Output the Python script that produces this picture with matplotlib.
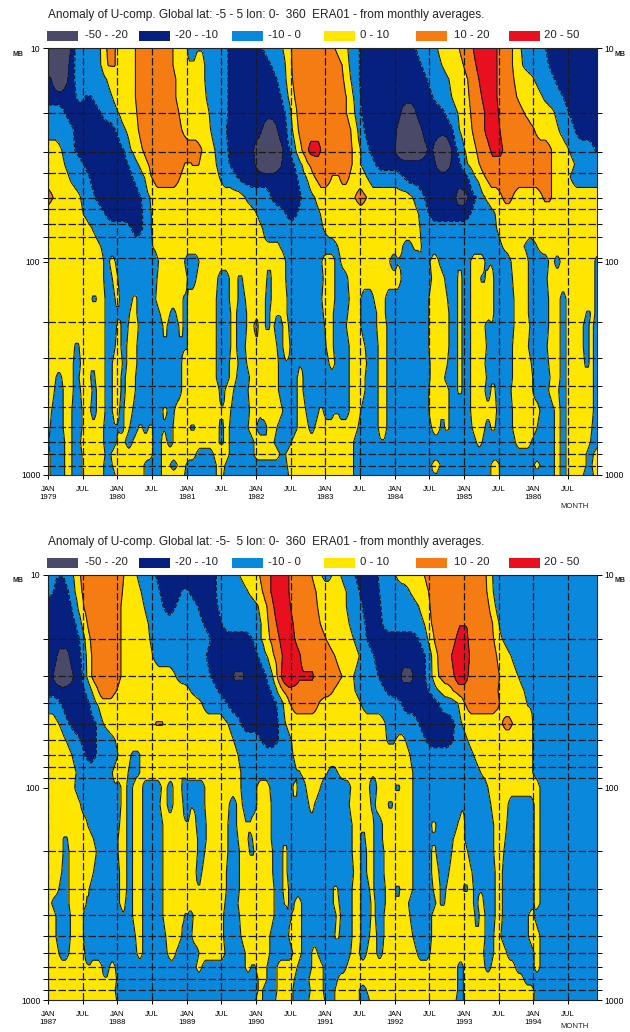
import numpy as np
import matplotlib
matplotlib.use("Agg")
import matplotlib.pyplot as plt
from matplotlib.patches import Rectangle

plt.rcParams["font.family"] = ["Liberation Sans", "DejaVu Sans"]

# class mid values of the anomaly bands
G, N, B, Y, O, R = -35, -15, -5, 5, 15, 35

bands = [-50, -20, -10, 0, 10, 20, 50]
band_colors = ["#4a4a68", "#06207f", "#0a88dc", "#ffe600", "#f47c12", "#e8101f"]
band_labels = ["-50 - -20", "-20 - -10", "-10 - 0", "0 - 10", "10 - 20", "20 - 50"]

pressure = [10, 12, 14, 17, 20, 24, 30, 35, 40, 50, 60, 70, 85, 100,
            120, 150, 175, 200, 250, 300, 350, 400, 500, 600, 700, 800, 900, 1000]

# dashed level lines as they sit in each panel
grid_1979 = [20.2, 30.8, 38.6, 50.6, 57, 67, 77, 96.6, 192, 284, 384, 481, 596, 700, 800, 909]
grid_1987 = [20, 30, 40, 50, 60, 70, 80, 90, 200, 300, 400, 500, 600, 700, 800, 900]

# one row per pressure level: value, last month of that value, value, last month...
runs_1979 = [
    [G,3.5,N,4.5,B,9,Y,10,O,11.5,Y,15,O,21.5,Y,24,B,25.5,Y,26.5,B,31,N,37,B,40.5,Y,42,O,49.7,Y,51.9,B,53.8,N,63.7,B,67.4,Y,71.2,O,74.2,R,77.1,O,80.3,Y,81.8,B,86.2,N,95],
    [G,3.2,N,4.6,B,9.2,Y,10.4,O,11.5,Y,15,O,21.6,Y,24.4,B,25.4,Y,27,B,31,N,38.6,B,41,Y,42,O,50.9,Y,52.2,B,53.8,N,64.7,B,68.2,Y,71.9,O,74.5,R,77.1,O,80.3,Y,82,B,86.6,N,95],
    [N,1.2,G,2.9,N,4.6,B,10,Y,15,O,22,Y,27,B,31,N,39.5,B,41.3,Y,42.2,O,51.2,Y,52.4,B,53.8,N,65.7,B,69.3,Y,72.5,O,75,R,77,O,80.7,Y,84.1,B,87.5,N,95],
    [N,4.8,B,6.3,N,7.7,B,11.2,Y,15.2,O,22.2,Y,27.4,B,31,N,40.3,B,41.7,Y,42.7,O,51.5,Y,52.8,B,54,N,66.7,B,69.9,Y,72.8,O,75.5,R,77.1,O,81.1,Y,85.5,B,89,N,95],
    [B,2.9,N,9,B,12,Y,15.4,O,22.5,Y,27.8,B,31,N,41.1,B,42.2,Y,42.9,O,51.7,Y,53.2,B,54,N,61.5,G,63,N,68.7,B,70.8,Y,73,O,76,R,77.4,O,82.3,Y,87.5,B,90,N,95],
    [B,4.3,N,11.5,B,13.3,Y,15.7,O,23,Y,28.2,B,30.8,N,37.5,G,39.2,N,41.3,B,42.4,Y,43.2,O,52.3,Y,53.5,B,54.6,N,60.9,G,64,N,70,B,71.2,Y,73.4,O,76.2,R,77.6,O,84.1,Y,88.3,B,91.2,N,95],
    [Y,2.3,B,4.6,N,13,B,14.4,Y,16.4,O,26.5,Y,28.8,B,31,N,36,G,40,N,41.8,B,43,Y,43.7,O,45.7,R,46.7,O,52.6,Y,54,B,55.5,N,60.7,G,65,N,67,G,69.3,N,70.8,B,72,Y,74,O,77,R,78.1,O,87,Y,90,B,94.7,N,95],
    [Y,2.9,B,6.2,N,13.8,B,15.6,Y,17.3,O,23.7,Y,24.8,O,26,Y,29.1,B,31.4,N,36.3,G,39.8,N,42.6,B,43.8,Y,45,O,52.5,Y,54,B,56.6,N,67.6,G,69.2,N,71.3,B,72.6,Y,74.5,O,87,Y,91.2,B,95],
    [Y,3.7,B,7,N,14.7,B,16.5,Y,17.9,O,22.8,Y,29.7,B,32.6,N,43,B,44.7,Y,46.1,O,49,Y,50.3,O,52.2,Y,55.2,B,61.3,N,72.5,B,73.9,Y,75.7,O,87,Y,90.4,B,95],
    [O,0.8,Y,5.5,B,8,N,16,B,17.6,Y,34,B,38.6,N,43.8,B,46.1,Y,53,O,55,Y,63,B,65,N,71,G,72,N,74,B,75.7,Y,78.5,O,80.3,Y,85.7,O,87,Y,95],
    [Y,6,B,9.8,N,16.4,B,17.9,Y,36,B,41,N,43.2,B,47,Y,64,B,65.9,N,73,B,77.4,Y,95],
    [Y,7.5,B,14.4,N,16.4,B,17.9,Y,37.2,B,47.5,Y,64.4,B,77.7,Y,95],
    [Y,9.2,B,18,Y,37.8,B,38.5,Y,40,B,50.2,Y,61.3,B,63,Y,64.7,B,78.5,Y,82.3,B,84.6,Y,95],
    [Y,9.5,B,10.5,Y,11.5,B,19,Y,23.5,B,26,Y,38,B,38.6,Y,41,B,47.4,Y,49.7,B,50.6,Y,59,B,60.5,Y,61,B,64.5,Y,65,B,66,Y,67.5,B,71,Y,71.5,B,73,Y,75.7,B,76.5,Y,77,B,80,Y,83,B,86.5,Y,87.5,B,88.5,Y,94.5,B,95],
    [Y,9.5,B,11,Y,12,B,18.8,Y,24,B,25.5,Y,29.4,B,31.4,Y,32.9,B,33.5,Y,37.8,B,38.6,Y,41,B,47.6,Y,49.5,B,51.9,Y,61,B,66.3,Y,68.5,B,70.8,Y,71.5,B,73,Y,74.8,B,75.7,Y,77,B,80.3,Y,83.2,B,86.4,Y,94.5,B,95],
    [Y,7.5,B,8.3,Y,9.8,B,11.5,Y,12.3,B,14.6,Y,15.3,B,18.7,Y,23.3,B,24.2,Y,29,B,31.4,Y,32.9,B,34,Y,37.5,B,38.6,Y,39.5,B,40.2,Y,41.3,B,47.4,Y,49.6,B,52,Y,54,B,56.4,Y,58.4,B,65.9,Y,69,B,70.8,Y,71.5,B,73,Y,77,B,80.6,Y,83.2,B,86.5,Y,88.6,B,89.7,Y,94.7,B,95],
    [Y,9.8,B,11.8,Y,12.3,B,14,Y,15.4,B,19.3,Y,21,B,22.2,Y,23.3,B,24.2,Y,29.1,B,31.7,Y,32.7,B,34.3,Y,36,B,36.5,Y,37.5,B,38.4,Y,39.5,B,40.2,Y,41.3,B,47.6,Y,49.4,B,51.9,Y,54,B,56.8,Y,58.4,B,65.9,Y,69.3,B,70.8,Y,71.5,B,73,Y,77,B,80.6,Y,83.2,B,86.5,Y,88.6,B,89.7,Y,93,B,93.8,Y,94.7,B,95],
    [Y,9.8,B,11.8,Y,12.5,B,13.8,Y,15.6,B,19.9,Y,20.5,B,22.5,Y,23.3,B,24.2,Y,29.1,B,31.7,Y,32.7,B,34.3,Y,35.7,B,36.3,Y,37.5,B,38.3,Y,39.2,B,40.6,Y,41.5,B,47.8,Y,49.4,B,51.7,Y,54,B,56.9,Y,58.5,B,65.9,Y,69.3,B,70.8,Y,71.5,B,73,Y,75.7,B,76.8,Y,77.3,B,80.6,Y,83.4,B,86.5,Y,88.6,B,89.7,Y,92.7,B,93.5,Y,94.4,B,95],
    [Y,4.6,B,5.4,Y,9.8,B,11.5,Y,12.7,B,13.7,Y,15.4,B,20,Y,20.6,B,22.8,Y,23.3,B,24.2,Y,29.1,B,31.5,Y,32.7,B,34.2,Y,36,B,36.5,Y,39.5,B,40.6,Y,41.8,B,43.5,Y,44.2,B,48.2,Y,49.4,B,52,Y,54.9,B,57.2,Y,58.7,B,65.9,Y,69.3,B,70.9,Y,71.5,B,73,Y,75.8,B,76.8,Y,77.4,B,80.4,Y,83.2,B,86.4,Y,88.6,B,89.7,Y,92.7,B,93.5,Y,94.4,B,95],
    [Y,4.4,B,5.6,Y,7.5,B,8.2,Y,9.8,B,11.2,Y,12.9,B,13.5,Y,15.3,B,23,Y,29.1,B,31.4,Y,32.9,B,34.3,Y,36,B,36.6,Y,39.9,B,41,Y,41.6,B,43.5,Y,44.2,B,48.6,Y,49.6,B,52,Y,55.2,B,57.2,Y,58.5,B,66,Y,69.1,B,70.9,Y,71.5,B,73.2,Y,75.7,B,76.8,Y,77.4,B,80.4,Y,83.6,B,86.6,Y,88.5,B,89.7,Y,92.8,B,93.5,Y,94.4,B,95],
    [Y,1.4,B,2.3,Y,4.4,B,5.4,Y,7.3,B,8.2,Y,9.8,B,11.2,Y,12.5,B,13.4,Y,15,B,23,Y,29.1,B,31.4,Y,32.7,B,34.9,Y,36,B,36.5,Y,39.8,B,41.2,Y,41.7,B,43,Y,44,B,52,Y,54.9,B,57.2,Y,58.5,B,66,Y,68.6,B,70.9,Y,71.5,B,73,Y,75.9,B,76.8,Y,77.4,B,80.4,Y,83.8,B,86.8,Y,88.5,B,89.7,Y,93,B,93.4,Y,94.4,B,95],
    [Y,1.2,B,2.6,Y,4.3,B,5.6,Y,7.5,B,8.4,Y,9.8,B,11.2,Y,12.5,B,13.4,Y,15,B,23.2,Y,29.5,B,30.5,Y,32,B,34.6,Y,36,B,36.5,Y,39.8,B,41,Y,41.7,B,43,Y,44.2,B,52,Y,54.9,B,57,Y,58.5,B,65.9,Y,67.9,B,68.3,Y,69.3,B,70.9,Y,71.5,B,73,Y,75.7,B,76.6,Y,77.4,B,80.1,Y,83.9,B,86.6,Y,88.3,B,89.7,Y,93,B,93.4,Y,94.4,B,95],
    [Y,0.6,B,2.6,Y,4.2,B,5.9,Y,7.3,B,8.4,Y,9.8,B,11.2,Y,12.4,B,13.1,Y,14.6,B,19.9,Y,20.7,B,21.9,Y,29.8,B,30.4,Y,31.7,B,34.9,Y,36,B,36.4,Y,40.5,B,43.2,Y,44.7,B,46.8,Y,47.5,B,49.5,Y,50,B,52.2,Y,54.2,B,57.2,Y,58.5,B,65.9,Y,68,B,68.6,Y,69.3,B,73,Y,75.8,B,76.2,Y,77.5,B,80.4,Y,85,B,87.5,Y,88.5,B,89.7,Y,94.4,B,95],
    [Y,0.3,B,2.7,Y,4.2,B,5.9,Y,8,B,8.4,Y,9.5,B,11.5,Y,12.1,B,13.1,Y,14.2,B,15.6,Y,16.4,B,17.3,Y,18,B,19.6,Y,20.2,B,21.6,Y,24.5,B,25.4,Y,29.7,B,30.4,Y,31.4,B,34.6,Y,36,B,37.8,Y,39.6,B,43.2,Y,45,B,46,Y,53.5,B,57.2,Y,58.5,B,66.4,Y,67.8,B,68.5,Y,69.3,B,73.4,Y,75.7,B,76.5,Y,77.4,B,80.4,Y,84.6,B,87.5,Y,88.5,B,89.7,Y,94.1,B,95],
    [Y,0.2,B,2.9,Y,4.2,B,5.7,Y,8,B,8.4,Y,9.5,B,11.8,Y,13.4,B,14.7,Y,18,B,19.6,Y,20.7,B,21.7,Y,29.7,B,30.3,Y,31.4,B,35.7,Y,37.8,B,38.4,Y,39.2,B,42,Y,52.9,B,57.7,Y,58.2,B,74,Y,75,B,80.9,Y,83.7,B,87.5,Y,88.5,B,89.7,Y,93.8,B,95],
    [Y,0.3,B,2.9,Y,4,B,5.8,Y,8,B,8.4,Y,9.8,B,10.8,Y,18,B,19.6,Y,25.6,B,28.5,Y,31.4,B,35.7,Y,40,B,41.2,Y,52.9,B,87.5,Y,88.5,B,89.7,Y,93.2,B,94.3,Y,95],
    [Y,0.3,B,2.9,Y,4,B,5.8,Y,8,B,8.6,Y,9.5,B,11,Y,16.7,B,19.6,Y,21,B,22.4,Y,23.8,B,29.1,Y,30.5,B,41.3,Y,52.9,B,66.4,Y,67.9,B,76.5,Y,78,B,84.2,Y,85,B,87.5,Y,88.5,B,89.7,Y,93,B,94.2,Y,95],
    [Y,0.3,B,2.9,Y,4,B,5.9,Y,9.5,B,11.5,Y,16.5,B,19.5,Y,23.7,B,29.2,Y,30.4,B,32.3,Y,32.8,B,41.5,Y,52.9,B,66.5,Y,67.2,B,76.5,Y,78,B,81,Y,81.6,B,87.5,Y,88.5,B,89.7,Y,92.5,B,94.3,Y,95],
]

runs_1987 = [
    [B,1.7,N,2.6,B,4.4,Y,5.5,O,13,Y,15.4,B,18.7,N,23.6,B,24.2,N,29.1,B,33,Y,36.6,O,39,R,41,O,45.5,Y,47.4,B,49.2,Y,50.6,B,53.2,N,57.2,B,60.1,Y,65,O,76,Y,76.5,B,84.1,Y,85,B,95],
    [B,0.9,N,3.5,B,4.6,Y,5.8,O,12.9,Y,16,B,19.3,N,23,B,24.4,N,29.2,B,34.6,Y,37.2,O,39.2,R,41.2,O,46.3,Y,51.5,B,53.8,N,57.3,B,62.7,Y,65.9,O,76.2,Y,76.8,B,84.1,Y,85,B,95],
    [N,4,B,5,Y,6,O,12.7,Y,16.7,B,19.9,N,22.2,B,25.9,N,29.4,B,36.3,Y,37.8,O,39.5,R,41.3,O,46.5,Y,51.7,B,54.3,N,57.5,B,64.1,Y,66,O,76.5,Y,77.2,B,84.1,Y,85,B,95],
    [N,4.9,B,5.9,Y,6.5,O,12.7,Y,17.3,B,26.8,N,30,B,36.9,Y,38.2,O,40,R,41.8,O,47.1,Y,52.2,B,54.9,N,57.8,B,65,Y,66.4,O,71.8,R,72.4,O,77,Y,77.8,B,84.1,Y,85,B,95],
    [N,5.5,B,6.3,Y,7,O,12.7,Y,17.6,B,28,N,35.4,B,36.9,Y,38.4,O,40.6,R,42,O,48,Y,52.8,B,55.2,N,64.1,B,65.9,Y,66.7,O,71,R,72.2,O,77.2,Y,78.5,B,84.1,Y,85,B,95],
    [N,2,G,3,N,5.9,B,6.7,Y,7.3,O,12.6,Y,18,B,27.4,N,36.3,B,37.8,Y,39.2,O,41.2,R,43.2,O,49.7,Y,53.8,B,56.4,N,65.3,B,66.3,Y,67.3,O,70.3,R,72.4,O,77.6,Y,80,B,84.1,Y,85,B,95],
    [N,1.3,G,3.9,N,6.2,B,6.9,Y,7.2,O,12.7,Y,22.2,B,28.2,N,32.5,G,33.3,N,38,B,38.6,Y,39.8,O,40.5,R,43.2,O,44.6,R,45.4,O,50.8,Y,52.9,B,57.2,N,61.5,G,62.7,N,65.3,B,66.4,Y,67.6,O,70.8,R,72,O,78,Y,81.3,B,84.1,Y,85,B,95],
    [N,6.3,B,7.8,Y,8.4,O,11.9,Y,24.5,B,29.4,N,38.6,B,39.5,Y,40.6,O,49.4,Y,53.2,B,58.4,N,65.9,B,67.6,Y,70.2,O,77.8,Y,82.3,B,84.1,Y,85,B,95],
    [B,2,N,7,B,8.4,Y,9.8,O,10.4,Y,26.5,B,30.8,N,39.5,B,40.6,Y,41.8,O,46.8,Y,54.1,B,61,N,67.6,B,70.8,Y,72.2,O,78,Y,82.9,B,84.1,Y,85,B,95],
    [Y,1.9,B,3.7,N,8.4,B,9.5,Y,18.7,O,19.9,Y,31.1,B,33.4,N,39.8,B,41.2,Y,58.4,B,64.1,N,70.3,B,71.6,Y,78.5,O,80.3,Y,83.9,B,95],
    [Y,3.2,B,5.5,N,8.4,B,11.5,Y,32,B,36.9,N,39.8,B,42,Y,58.7,B,60,Y,61.8,B,65.3,N,70.2,B,72.5,Y,83.9,B,95],
    [Y,4,B,6.3,N,8.4,B,12,Y,14.4,B,15.9,Y,32.9,B,42.4,Y,55.8,B,56.4,Y,62.7,B,73.6,Y,83.9,B,95],
    [Y,4.8,B,11.2,Y,13.8,B,15.9,Y,22.2,B,23.2,Y,33.4,B,43.2,Y,44.1,B,44.7,Y,48.3,B,50,Y,55.5,B,56.4,Y,58.4,B,59,Y,63.2,B,74.8,Y,83.9,B,95],
    [Y,4.6,B,11,Y,11.5,B,12.7,Y,13.7,B,14.6,Y,16.3,B,19.7,Y,20.5,B,21.6,Y,23.2,B,27.1,Y,33.4,B,36,Y,38.4,B,42.4,Y,43,B,44.6,Y,47,B,52.3,Y,55.7,B,56.8,Y,60,B,60.8,Y,63.2,B,72,Y,72.5,B,76,Y,85,B,95],
    [Y,5.5,B,11,Y,11.5,B,12.5,Y,13.7,B,14.6,Y,16.4,B,19.3,Y,20.7,B,21.5,Y,23.3,B,24.8,Y,25.4,B,27.1,Y,31.4,B,32.6,Y,33.7,B,36,Y,38.6,B,42.7,Y,43.2,B,45,Y,46.1,B,52.2,Y,55.9,B,56.7,Y,58.8,B,59.7,Y,63,B,71.8,Y,72.3,B,76.5,Y,79.7,B,84.1,Y,85,B,95],
    [Y,6.9,B,12.3,Y,13.7,B,14.6,Y,16.4,B,19.8,Y,23.6,B,24.2,Y,25.5,B,27.3,Y,31.1,B,32.7,Y,34.3,B,34.8,Y,38.6,B,52.6,Y,54,B,54.6,Y,56.4,B,57.8,Y,63,B,66.4,Y,67.2,B,70.8,Y,72.2,B,77,Y,79.4,B,84.1,Y,85,B,95],
    [Y,2.7,B,3.3,Y,7.8,B,12.1,Y,13.7,B,14.6,Y,16.4,B,19.8,Y,23.6,B,24.2,Y,25.8,B,27.3,Y,31.1,B,32.9,Y,34.6,B,35.4,Y,38.6,B,40.6,Y,41.1,B,52.6,Y,54,B,54.9,Y,56.4,B,57.8,Y,63,B,66.6,Y,67.2,B,70.2,Y,72.2,B,77,Y,79,B,84.1,Y,85,B,95],
    [Y,2.5,B,3.5,Y,8.4,B,12.1,Y,13.7,B,14.6,Y,16.4,B,19.8,Y,25.9,B,27.1,Y,31.1,B,33,Y,34.9,B,35.5,Y,38.9,B,40.6,Y,41.3,B,52.6,Y,54,B,55.2,Y,56.4,B,58,Y,63,B,66.4,Y,67.2,B,69.9,Y,72.5,B,77.2,Y,78.9,B,84.1,Y,85,B,95],
    [Y,2.3,B,3.5,Y,7.8,B,12.3,Y,13.7,B,14.7,Y,16.4,B,19.8,Y,25.6,B,26.7,Y,30.8,B,33,Y,38.9,B,40.5,Y,41.3,B,52.8,Y,54,B,55.2,Y,56.3,B,58,Y,63,B,66.4,Y,67.5,B,69.3,Y,71.8,B,72.2,Y,73.4,B,77.4,Y,78.7,B,84.1,Y,85,B,95],
    [Y,1.9,B,3.6,Y,6,B,6.4,Y,7.2,B,12.3,Y,13.6,B,14.7,Y,16.4,B,19.8,Y,25.6,B,26.1,Y,30.8,B,33,Y,39,B,40.5,Y,41.5,B,49.3,Y,50.1,B,52.6,Y,54,B,55.5,Y,56.4,B,58.4,Y,60,B,60.8,Y,63,B,66.7,Y,67.8,B,68.8,Y,71.8,B,72.5,Y,73.6,B,74.7,Y,75.2,B,77.4,Y,78.6,B,84.1,Y,85,B,95],
    [Y,0.6,B,3.6,Y,6,B,6.5,Y,7.2,B,12.4,Y,13.4,B,14.7,Y,16.4,B,19.9,Y,30.7,B,32.9,Y,39.2,B,40.9,Y,41.5,B,42.7,Y,43.8,B,49.4,Y,50.3,B,52.6,Y,54,B,55.8,Y,56.6,B,58.4,Y,60,B,60.6,Y,62.4,B,67,Y,67.9,B,68.5,Y,73.5,B,74.4,Y,75.3,B,77.4,Y,78.6,B,84.1,Y,85,B,95],
    [Y,1.4,B,3.9,Y,6.1,B,13,Y,13.7,B,14.7,Y,16.4,B,19.9,Y,23,B,23.6,Y,24.2,B,25,Y,30.4,B,33,Y,39.2,B,41.5,Y,42,B,42.6,Y,43.8,B,49.9,Y,50.6,B,52.6,Y,54,B,55.8,Y,56.6,B,58,Y,60.3,B,60.9,Y,62.6,B,66.4,Y,73.9,B,74.7,Y,75.5,B,77.4,Y,78.7,B,83,Y,84,B,95],
    [Y,1.4,B,3.9,Y,6,B,15,Y,16.4,B,20.3,Y,23.1,B,24.8,Y,30.4,B,33.4,Y,38.3,B,41.6,Y,43.8,B,49.6,Y,50.3,B,52.6,Y,54,B,55.7,Y,56.8,B,58,Y,60.9,B,61.3,Y,63,B,66.4,Y,73.9,B,74.3,Y,75.7,B,77.2,Y,78.3,B,83.2,Y,85,B,95],
    [Y,1.9,B,3.6,Y,6.3,B,15.3,Y,16.4,B,20.7,Y,22,B,26,Y,30.5,B,34,Y,38.3,B,42.4,Y,43.8,B,45.6,Y,46.7,B,52.3,Y,53.9,B,55,Y,56.8,B,57.8,Y,63.9,B,66.2,Y,75.4,B,77.2,Y,79.4,B,84.1,Y,85,B,95],
    [Y,6.5,B,7.2,Y,9.3,B,10.7,Y,11.5,B,25.6,Y,26.5,B,34,Y,35,B,35.9,Y,37.8,B,39.7,Y,43,B,45.6,Y,47.6,B,51.5,Y,70.8,B,71.9,Y,75.7,B,76.5,Y,80.9,B,84.1,Y,85,B,95],
    [Y,3.6,B,4.1,Y,9.5,B,10.1,Y,11.9,B,28.5,Y,29.2,B,36.4,Y,37.8,B,39.5,Y,42.7,B,45,Y,47.7,B,50,Y,70.8,B,71.9,Y,82.3,B,95],
    [Y,3.6,B,4.1,Y,11.5,B,28.5,Y,29.1,B,36.4,Y,37.2,B,39.5,Y,42.4,B,45.4,Y,47.7,B,49.6,Y,53.9,B,55.2,Y,70.8,B,71.9,Y,84,B,95],
    [Y,11.8,B,15.6,Y,16.2,B,26.8,Y,27.2,B,28.5,Y,29.2,B,35.8,Y,37.2,B,39.4,Y,42.4,B,45.1,Y,47.8,B,49.6,Y,53.9,B,55.5,Y,70.7,B,71.9,Y,84,B,95],
]

years_1979 = [1979, 1980, 1981, 1982, 1983, 1984, 1985, 1986]
years_1987 = [1987, 1988, 1989, 1990, 1991, 1992, 1993, 1994]
title_1979 = "Anomaly of U-comp. Global lat: -5 - 5 lon: 0-  360  ERA01 - from monthly averages."
title_1987 = "Anomaly of U-comp. Global lat: -5-  5 lon: 0-  360  ERA01 - from monthly averages."

W, H = 630, 1032
fig = plt.figure(figsize=(W / 100, H / 100), dpi=100)


def field(runs, months):
    out = []
    for row, p in zip(runs, pressure):
        vals = np.array(row[0::2], dtype=float)
        ends = np.array(row[1::2], dtype=float)
        idx = np.clip(np.searchsorted(ends, months), 0, len(vals) - 1)
        # slight blending so the contours do not come out as stairs
        w = 9 if p < 100 else 5
        line = np.pad(vals[idx], w // 2, mode="edge")
        out.append(np.convolve(line, np.ones(w) / w, mode="valid"))
    return np.array(out)


def panel(top, bottom, month_y, runs, years, title, grid_levels):
    ax = fig.add_axes([48 / W, 1 - bottom / H, 549 / W, (bottom - top) / H])
    months = np.arange(0, 95.01, 0.25)
    z = field(runs, months)
    ax.contourf(months, pressure, z, levels=bands, colors=band_colors)
    ax.contour(months, pressure, z, levels=bands, colors="#1a1a1a", linewidths=0.8)
    ax.set_yscale("log")
    ax.set_ylim(1000, 10)
    ax.set_xlim(0, 95)

    ax.set_xticks(np.arange(0, 96, 6))
    labels = []
    for yr in years:
        labels += ["JAN\n%d" % yr, "JUL"]
    ax.set_xticklabels(labels, fontsize=5.6, linespacing=1.25)
    ax.set_yticks([10, 100, 1000])
    ax.set_yticklabels(["10", "100", "1000"], fontsize=6.2)
    ax.set_yticks(grid_levels, minor=True)
    ax.set_yticklabels([], minor=True)
    ax.tick_params(axis="y", which="both", left=True, right=True, labelright=True, length=3.5, width=0.7, pad=2)
    ax.tick_params(axis="x", length=3, width=0.7, pad=5)
    ax.grid(True, axis="x", color="#1a1a1a", linestyle=(0, (6, 2)), linewidth=0.9)
    ax.grid(True, axis="y", which="minor", color="#1a1a1a", linestyle=(0, (6, 2)), linewidth=0.9)
    for s in ax.spines.values():
        s.set_linewidth(0.8)
        s.set_color("#222222")

    # heading and colour key
    fig.text(48 / W, 1 - (top - 33) / H, title, fontsize=8.6, va="center", color="#222222")
    swatch_x = [47, 139, 232, 324, 416, 509]
    label_x = [85, 175, 268, 360, 454, 544]
    for x, lx, c, lab in zip(swatch_x, label_x, band_colors, band_labels):
        fig.add_artist(Rectangle((x / W, 1 - (top - 7) / H), 31 / W, 10 / H,
                                 transform=fig.transFigure, color=c, lw=0))
        fig.text(lx / W, 1 - (top - 13) / H, lab, fontsize=8.2, va="center", color="#222222")
    fig.text(18 / W, 1 - (top + 6) / H, "MB", fontsize=5, fontweight="bold", va="center", ha="center", color="#222222")
    fig.text(620 / W, 1 - (top + 6) / H, "MB", fontsize=5, fontweight="bold", va="center", ha="center", color="#222222")
    fig.text(575 / W, 1 - month_y / H, "MONTH", fontsize=5.6, va="center", ha="center", color="#222222")


panel(48, 475, 507, runs_1979, years_1979, title_1979, grid_1979)
panel(575, 1000, 1026, runs_1987, years_1987, title_1987, grid_1987)

fig.savefig("out.png", dpi=100)
